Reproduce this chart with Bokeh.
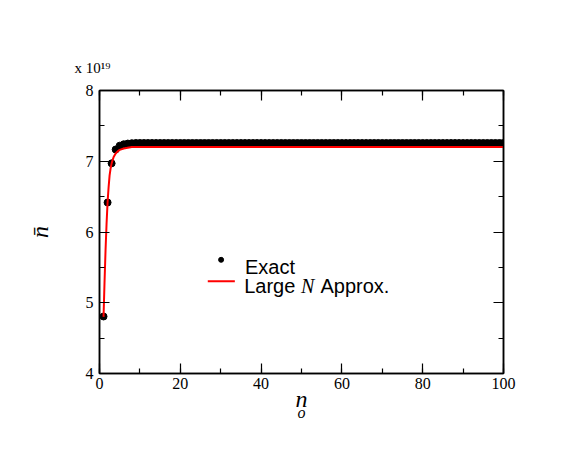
import math
from bokeh.plotting import figure
from bokeh.models import Label, LinearAxis, SingleIntervalTicker, Range1d, Title
from bokeh.embed import file_html
from bokeh.resources import INLINE

# ---- data ----
n_o = list(range(1, 101))
exact_n = [4.806, 6.417, 6.97, 7.166, 7.22, 7.24, 7.25, 7.255,
           7.258, 7.258, 7.258, 7.258, 7.258, 7.258, 7.258, 7.258, 7.258, 7.258,
           7.258, 7.258, 7.258, 7.258, 7.258, 7.258, 7.258, 7.258, 7.258, 7.258,
           7.258, 7.258, 7.258, 7.258, 7.258, 7.258, 7.258, 7.258, 7.258, 7.258,
           7.258, 7.258, 7.258, 7.258, 7.258, 7.258, 7.258, 7.258, 7.258, 7.258,
           7.258, 7.258, 7.258, 7.258, 7.258, 7.258, 7.258, 7.258, 7.258, 7.258,
           7.258, 7.258, 7.258, 7.258, 7.258, 7.258, 7.258, 7.258, 7.258, 7.258,
           7.258, 7.258, 7.258, 7.258, 7.258, 7.258, 7.258, 7.258, 7.258, 7.258,
           7.258, 7.258, 7.258, 7.258, 7.258, 7.258, 7.258, 7.258, 7.258, 7.258,
           7.258, 7.258, 7.258, 7.258, 7.258, 7.258, 7.258, 7.258, 7.258, 7.258,
           7.258, 7.258]
approx_x = [1.0, 1.25, 1.5, 1.75, 2.0, 2.25, 2.5, 2.75, 3.0, 3.5, 4.0, 4.5, 5.0, 6.0, 7.0, 8.0, 10.0, 100.0]
approx_n = [4.80, 5.30, 5.75, 6.12, 6.42, 6.63, 6.80, 6.90, 6.97, 7.06, 7.11, 7.14, 7.16, 7.18, 7.19, 7.20, 7.20, 7.20]

x_ticks_interval = 20
y_ticks_interval = 1

SERIF = "Liberation Serif"
SANS = "Liberation Sans"

p = figure(width=560, height=428, x_range=Range1d(0, 100), y_range=Range1d(4, 8),
           output_backend="svg", toolbar_location=None,
           min_border_left=99, min_border_right=57, min_border_top=90, min_border_bottom=55,
           background_fill_color="white", border_fill_color="white")
p.xgrid.visible = False
p.ygrid.visible = False
p.outline_line_color = "black"
p.outline_line_width = 1.5

def style_axis(ax, show_labels):
    ax.axis_line_width = 1.5
    ax.axis_line_color = "black"
    ax.major_tick_in = 10
    ax.major_tick_out = 0
    ax.minor_tick_in = 5
    ax.minor_tick_out = 0
    ax.major_tick_line_color = "black"
    ax.minor_tick_line_color = "black"
    ax.major_tick_line_width = 1.2
    ax.minor_tick_line_width = 1.2
    ax.major_label_text_font = SERIF
    ax.major_label_text_font_size = "16px" if show_labels else "0px"
    ax.major_label_text_color = "black" if show_labels else None

xt = SingleIntervalTicker(interval=x_ticks_interval, num_minor_ticks=2)
yt = SingleIntervalTicker(interval=y_ticks_interval, num_minor_ticks=2)
p.xaxis.ticker = xt
p.yaxis.ticker = yt
style_axis(p.xaxis[0], True)
style_axis(p.yaxis[0], True)
p.xaxis.major_label_standoff = 4
p.yaxis.major_label_standoff = 6

# axis titles
p.xaxis.axis_label = "n"
p.xaxis.axis_label_text_font = SERIF
p.xaxis.axis_label_text_font_style = "italic"
p.xaxis.axis_label_text_font_size = "24px"
p.xaxis.axis_label_text_color = "black"
p.xaxis.axis_label_standoff = -6
p.yaxis.axis_label = "n\u0304"
p.yaxis.axis_label_text_font = SERIF
p.yaxis.axis_label_text_font_style = "italic"
p.yaxis.axis_label_text_font_size = "24px"
p.yaxis.axis_label_text_color = "black"
p.yaxis.axis_label_standoff = 30

top = LinearAxis(ticker=SingleIntervalTicker(interval=x_ticks_interval, num_minor_ticks=2))
right = LinearAxis(ticker=SingleIntervalTicker(interval=y_ticks_interval, num_minor_ticks=2))
style_axis(top, False)
style_axis(right, False)
top.major_label_standoff = 0
right.major_label_standoff = 0
p.add_layout(top, "above")
p.add_layout(right, "right")

# subscript of the x title, and the multiplier above the frame
sub_o = Title(text="o", text_font=SERIF, text_font_style="italic", text_font_size="16px",
              text_color="black", align="center", offset=5, standoff=-21, vertical_align="top")
p.add_layout(sub_o, "below")
mult = Title(text="x 10\u00b9\u2079", text_font=SERIF, text_font_style="normal",
             text_font_size="15px", text_color="black", align="left", offset=-25, standoff=30,
             vertical_align="bottom")
p.add_layout(mult, "above")

# data
p.scatter(n_o, exact_n, size=7, color="black", marker="circle")
p.line(approx_x, approx_n, color="red", line_width=2)

# legend (manual)
p.scatter([30.1], [5.607], size=5, color="black", marker="circle")
p.line([26.8, 33.5], [5.305, 5.305], color="red", line_width=2)

def lab(x, y, text, font, size, style="normal"):
    p.add_layout(Label(x=x, y=y, text=text, text_font=font, text_font_size=size,
                       text_font_style=style, text_align="left",
                       text_baseline="alphabetic", text_color="black"))

lab(36.0, 5.512, "Exact", SANS, "20px")
lab(35.8, 5.230, "Large", SANS, "20px")
lab(49.9, 5.230, "N", SERIF, "20px", style="italic")
lab(54.7, 5.230, "Approx.", SANS, "20px")

open("out.html", "w").write(file_html(p, INLINE))
